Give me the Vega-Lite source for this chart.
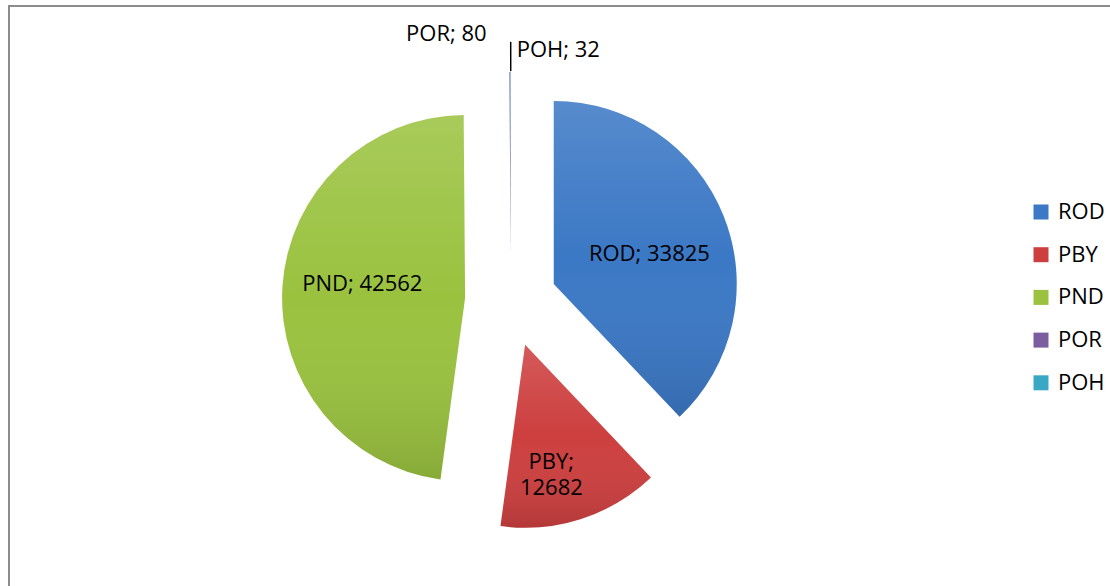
{
  "$schema": "https://vega.github.io/schema/vega-lite/v6.json",
  "width": 1101,
  "height": 580,
  "autosize": {"type": "none"},
  "padding": {"left": 9, "top": 6, "right": 0, "bottom": 0},
  "background": "white",
  "view": {"stroke": "#8c8c8c", "strokeWidth": 2, "strokeDash": [1101, 1681, 600]},
  "config": {
    "font": "Open Sans"
  },
  "data": {
    "values": [
      {"cat": "ROD", "value": 33825, "idx": 1},
      {"cat": "PBY", "value": 12682, "idx": 2},
      {"cat": "PND", "value": 42562, "idx": 3},
      {"cat": "POR", "value": 80, "idx": 4},
      {"cat": "POH", "value": 32, "idx": 5}
    ]
  },
  "transform": [
    {"calculate": "datum.cat + '; ' + datum.value", "as": "label"},
    {"calculate": "datum.cat + ';\\n' + datum.value", "as": "label2"}
  ],
  "encoding": {
    "theta": {"field": "value", "type": "quantitative", "stack": true},
    "order": {"field": "idx", "type": "quantitative"}
  },
  "layer": [
    {
      "mark": {
        "type": "arc",
        "radius": 183,
        "x": {"expr": "502 + 46*sin(scale('theta', (datum.value_start + datum.value_end)/2))"},
        "y": {"expr": "295 - 46*cos(scale('theta', (datum.value_start + datum.value_end)/2))"}
      },
      "encoding": {
        "color": {
          "field": "cat",
          "type": "nominal",
          "scale": {
            "domain": ["ROD", "PBY", "PND", "POR", "POH"],
            "range": ["#3b78c5", "#cd3f3f", "#9ac23f", "#7b5ea0", "#3aa8c5"]
          },
          "legend": {
            "orient": "none",
            "legendX": 1021,
            "legendY": 195,
            "title": null,
            "symbolType": "square",
            "symbolSize": 225,
            "symbolStrokeWidth": 0,
            "symbolOpacity": 1,
            "labelFontSize": 22,
            "labelFont": "Open Sans",
            "labelColor": "black",
            "labelOffset": 6,
            "labelLimit": 0,
            "rowPadding": 20.7
          }
        }
      }
    },
    {
      "mark": {
        "type": "arc",
        "radius": 183,
        "x": {"expr": "502 + 46*sin(scale('theta', (datum.value_start + datum.value_end)/2))"},
        "y": {"expr": "295 - 46*cos(scale('theta', (datum.value_start + datum.value_end)/2))"},
        "fill": {
          "gradient": "linear",
          "x1": 0, "y1": 0, "x2": 0, "y2": 1,
          "stops": [
            {"offset": 0, "color": "rgba(255,255,255,0.14)"},
            {"offset": 0.5, "color": "rgba(255,255,255,0)"},
            {"offset": 1, "color": "rgba(0,0,0,0.12)"}
          ]
        }
      },
      "encoding": {"detail": {"field": "cat", "type": "nominal"}}
    },
    {
      "mark": {
        "type": "text",
        "radius": 103,
        "x": {"expr": "502 + 46*sin(scale('theta', (datum.value_start + datum.value_end)/2))"},
        "y": {"expr": "295 - 46*cos(scale('theta', (datum.value_start + datum.value_end)/2))"},
        "fontSize": 22,
        "fill": "black",
        "align": "center",
        "baseline": "middle",
        "dy": 8
      },
      "encoding": {
        "detail": {"field": "cat", "type": "nominal"},
        "text": {"field": "label", "type": "nominal"},
        "opacity": {"condition": {"test": "datum.cat === 'ROD'", "value": 1}, "value": 0}
      }
    },
    {
      "mark": {
        "type": "text",
        "radius": 103,
        "x": {"expr": "502 + 46*sin(scale('theta', (datum.value_start + datum.value_end)/2))"},
        "y": {"expr": "295 - 46*cos(scale('theta', (datum.value_start + datum.value_end)/2))"},
        "fontSize": 22,
        "fill": "black",
        "align": "center",
        "baseline": "middle",
        "dy": -8
      },
      "encoding": {
        "detail": {"field": "cat", "type": "nominal"},
        "text": {"field": "label", "type": "nominal"},
        "opacity": {"condition": {"test": "datum.cat === 'PND'", "value": 1}, "value": 0}
      }
    },
    {
      "mark": {
        "type": "text",
        "radius": 128,
        "x": {"expr": "502 + 46*sin(scale('theta', (datum.value_start + datum.value_end)/2))"},
        "y": {"expr": "295 - 46*cos(scale('theta', (datum.value_start + datum.value_end)/2))"},
        "fontSize": 22,
        "fill": "black",
        "align": "center",
        "baseline": "middle",
        "lineBreak": "\n",
        "lineHeight": 26,
        "dx": -13,
        "dy": -5
      },
      "encoding": {
        "detail": {"field": "cat", "type": "nominal"},
        "text": {"field": "label2", "type": "nominal"},
        "opacity": {"condition": {"test": "datum.cat === 'PBY'", "value": 1}, "value": 0}
      }
    },
    {
      "mark": {
        "type": "text",
        "radius": 221,
        "x": {"expr": "502 + 46*sin(scale('theta', (datum.value_start + datum.value_end)/2))"},
        "y": {"expr": "295 - 46*cos(scale('theta', (datum.value_start + datum.value_end)/2))"},
        "fontSize": 22,
        "fill": "black",
        "align": "right",
        "baseline": "middle",
        "dx": -23
      },
      "encoding": {
        "detail": {"field": "cat", "type": "nominal"},
        "text": {"field": "label", "type": "nominal"},
        "opacity": {"condition": {"test": "datum.cat === 'POR'", "value": 1}, "value": 0}
      }
    },
    {
      "mark": {
        "type": "text",
        "radius": 205,
        "x": {"expr": "502 + 46*sin(scale('theta', (datum.value_start + datum.value_end)/2))"},
        "y": {"expr": "295 - 46*cos(scale('theta', (datum.value_start + datum.value_end)/2))"},
        "fontSize": 22,
        "fill": "black",
        "align": "left",
        "baseline": "middle",
        "dx": 6
      },
      "encoding": {
        "detail": {"field": "cat", "type": "nominal"},
        "text": {"field": "label", "type": "nominal"},
        "opacity": {"condition": {"test": "datum.cat === 'POH'", "value": 1}, "value": 0}
      }
    },
    {
      "mark": {
        "type": "arc",
        "radius": 213,
        "radius2": 184,
        "x": {"expr": "502 + 46*sin(scale('theta', (datum.value_start + datum.value_end)/2))"},
        "y": {"expr": "295 - 46*cos(scale('theta', (datum.value_start + datum.value_end)/2))"},
        "fill": "black",
        "fillOpacity": 0,
        "stroke": "black",
        "strokeWidth": 1
      },
      "encoding": {
        "detail": {"field": "cat", "type": "nominal"},
        "strokeOpacity": {"condition": {"test": "datum.cat === 'POH'", "value": 1}, "value": 0}
      }
    }
  ]
}
